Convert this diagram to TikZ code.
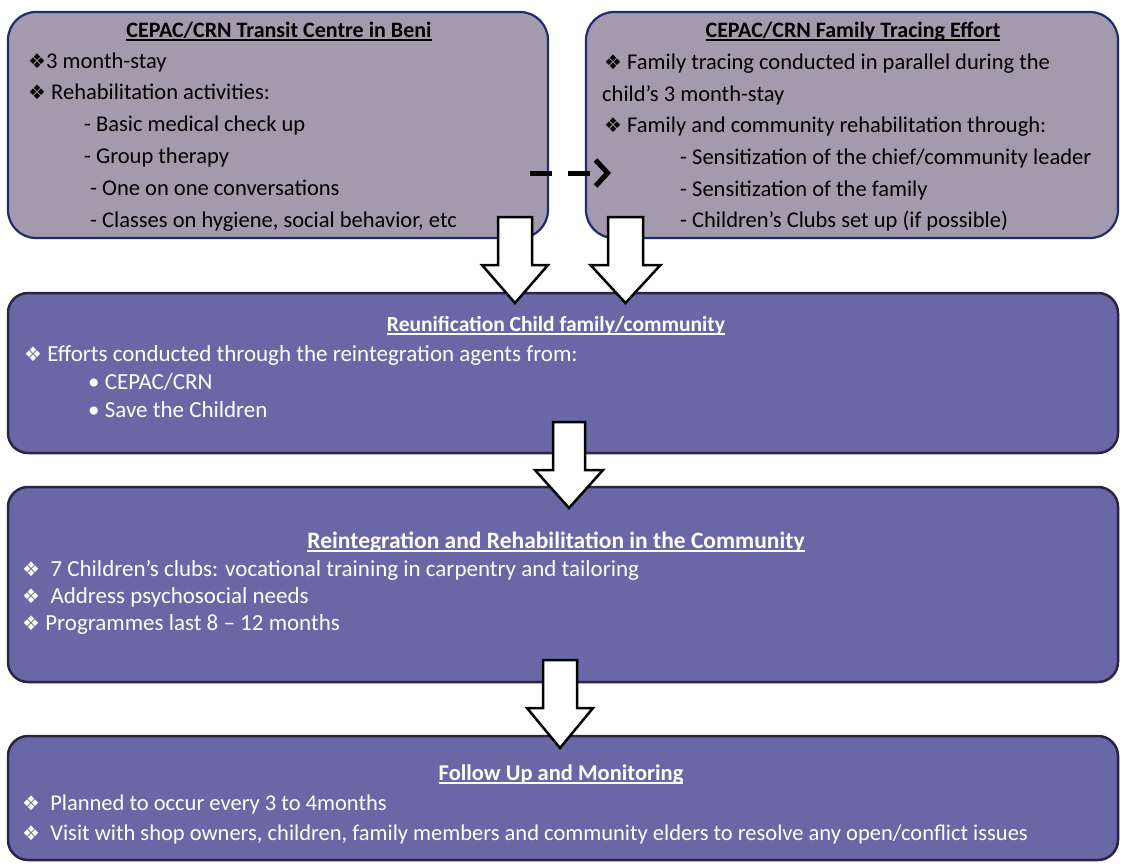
\documentclass[tikz,border=0pt]{standalone}
\usepackage{fontspec}
\setmainfont{Carlito}
\newfontfamily\dejavu{DejaVu Sans}
\usetikzlibrary{arrows.meta}
\definecolor{topfill}{RGB}{164,154,174}
\definecolor{topdraw}{RGB}{32,44,110}
\definecolor{botfill}{RGB}{106,103,166}
\definecolor{botdraw}{RGB}{44,36,66}
\newcommand\dia{{\dejavu\fontsize{20}{20}\selectfont ❖}}
\newcommand\myul[1]{\setbox0\hbox{#1}\rlap{\rule[-3.5pt]{\wd0}{1.6pt}}\box0}
\newcommand\blockarrow[7]{%
  \coordinate (#1s) at (#2,#3);
  \coordinate (#1t) at (#2,#5);
  \draw[blockarr] ({#2-#6},#3) -- ({#2+#6},#3) -- ({#2+#6},#4) -- ({#2+#7},#4)
    -- (#1t) -- ({#2-#7},#4) -- ({#2-#6},#4) -- cycle;}
\begin{document}
\begin{tikzpicture}[x=1pt,y=-1pt,
  topbox/.style={rectangle, draw=topdraw, line width=2.2pt, fill=topfill, rounded corners=28pt, inner sep=0pt},
  botbox/.style={rectangle, draw=botdraw, line width=2.5pt, fill=botfill, rounded corners=20pt, inner sep=0pt},
  blockarr/.style={draw=black, line width=2.5pt, fill=white, line join=miter},
  dasharr/.style={draw=black, line width=5pt, dash pattern=on 22pt off 16pt, -{Straight Barb[length=12pt,width=26pt]}},
  tl/.style={anchor=base west, inner sep=0pt, text=black, font=\fontsize{22.5}{26}\selectfont},
  bl/.style={anchor=base west, inner sep=0pt, text=white, font=\fontsize{23}{26}\selectfont},
  bls/.style={bl, font=\fontsize{22.5}{26}\selectfont},
  ttl/.style={anchor=base, inner sep=0pt, text=black, font=\bfseries\fontsize{22}{24}\selectfont},
  btl/.style={ttl, text=white}
]
\fill[white] (0,0) rectangle (1122,865);
\useasboundingbox (0,0) rectangle (1122,865);

% boxes
\node[topbox, minimum width=540pt, minimum height=226pt] (b1) at (278,125) {};
\node[topbox, minimum width=532pt, minimum height=226pt] (b2) at (852,125) {};
\node[botbox, minimum width=1110pt, minimum height=160pt] (b3) at (563,373) {};
\node[botbox, minimum width=1110pt, minimum height=195pt] (b4) at (563,584.5) {};
\node[botbox, minimum width=1110pt, minimum height=124pt] (b5) at (563,798) {};

% block arrows
\blockarrow{a1}{515}{217}{265}{303}{17}{33}
\blockarrow{a2}{625.5}{217}{265}{303}{17.5}{35}
\blockarrow{a3}{569}{422}{470}{508}{16}{34}
\blockarrow{a4}{560}{660}{708}{748}{17}{33}

% dashed arrow
\coordinate (ds) at (530,173);
\coordinate (de) at (611,173);
\draw[dasharr] (ds) -- (de);

% box 1 text
\node[ttl] (b1t) at (279,37) {\myul{CEPAC/CRN Transit Centre in Beni}};
\node[tl] (b1l1) at (28,68) {\dia3 month-stay};
\node[tl] (b1l2) at (28,99) {\dia{} Rehabilitation activities:};
\node[tl] (b1l3) at (84,131) {- Basic medical check up};
\node[tl] (b1l4) at (84,163) {- Group therapy};
\node[tl] (b1l5) at (90,195) {- One on one conversations};
\node[tl] (b1l6) at (90,227) {- Classes on hygiene, social behavior, etc};

% box 2 text
\node[ttl] (b2t) at (853,37) {\myul{CEPAC/CRN Family Tracing Effort}};
\node[tl] (b2l1) at (604,69) {\dia{} Family tracing conducted in parallel during the};
\node[tl] (b2l2) at (602,101) {child’s 3 month-stay};
\node[tl] (b2l3) at (604,132) {\dia{} Family and community rehabilitation through:};
\node[tl] (b2l4) at (680,164) {- Sensitization of the chief/community leader};
\node[tl] (b2l5) at (680,196) {- Sensitization of the family};
\node[tl] (b2l6) at (680,227) {- Children’s Clubs set up (if possible)};

% box 3 text
\node[btl, font=\bfseries\fontsize{21.5}{24}\selectfont] (b3t) at (556,331) {\myul{Reunification Child family/community}};
\node[bl] (b3l1) at (24,361) {\dia{} Efforts conducted through the reintegration agents from:};
\node[bl] (b3l2) at (88,389) {• CEPAC/CRN};
\node[bl] (b3l3) at (88,417) {• Save the Children};

% box 4 text
\node[btl, font=\bfseries\fontsize{23.5}{26}\selectfont] (b4t) at (556,548) {\myul{Reintegration and Rehabilitation in the Community}};
\node[bl] (b4l1) at (22,576) {\dia{}\ \ 7 Children’s clubs: vocational training in carpentry and tailoring};
\node[bl] (b4l2) at (22,603) {\dia{}\ \ Address psychosocial needs};
\node[bl] (b4l3) at (22,630) {\dia{} Programmes last 8 – 12 months};

% box 5 text
\node[btl, font=\bfseries\fontsize{22.5}{26}\selectfont] (b5t) at (561,780) {\myul{Follow Up and Monitoring}};
\node[bls] (b5l1) at (22,810) {\dia{}\ \ Planned to occur every 3 to 4months};
\node[bls] (b5l2) at (22,840) {\dia{}\ \ Visit with shop owners, children, family members and community elders to resolve any open/conflict issues};
\end{tikzpicture}
\end{document}
